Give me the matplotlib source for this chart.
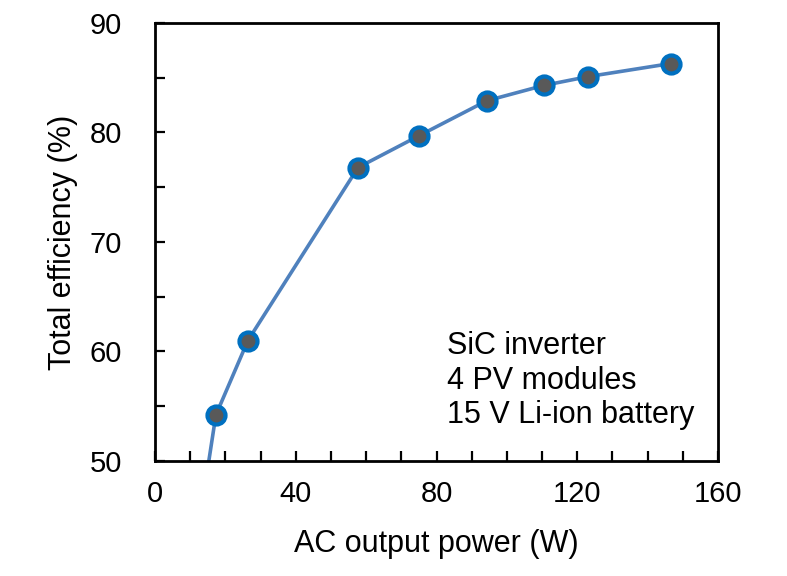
import numpy as np
import matplotlib.pyplot as plt
from matplotlib.ticker import MultipleLocator

plt.rcParams['font.family'] = ['Liberation Sans', 'DejaVu Sans']

# measured points (last one below the axis range only shapes the line end)
power = [13.0, 17.3, 26.4, 57.7, 75.0, 94.3, 110.5, 123.0, 146.6]
efficiency = [45.2, 54.2, 61.0, 76.8, 79.7, 82.9, 84.3, 85.1, 86.3]
x_ticks = [0, 40, 80, 120, 160]
y_ticks = [50, 60, 70, 80, 90]
note = "SiC inverter\n4 PV modules\n15 V Li-ion battery"

fig = plt.figure(figsize=(7.87, 5.76), dpi=100)
ax = fig.add_axes([155 / 787, 1 - 461 / 576, (718 - 155) / 787, (461 - 23) / 576])

ax.plot(power, efficiency, "-", color="#4F81BD", lw=2.6, zorder=2)
ax.plot(power[1:], efficiency[1:], "o", ms=13, mfc="#595959", mec="#0070C0",
        mew=3, zorder=3)

ax.set_xlim(0, 160)
ax.set_ylim(50, 90)
ax.set_xticks(x_ticks)
ax.set_yticks(y_ticks)
ax.xaxis.set_minor_locator(MultipleLocator(10))
ax.yaxis.set_minor_locator(MultipleLocator(5))
ax.tick_params(which="both", direction="in", width=1.6, length=7,
               labelsize=21)
ax.tick_params(axis="x", pad=14)
ax.tick_params(axis="y", pad=24)
for s in ax.spines.values():
    s.set_linewidth(2)

ax.set_xlabel("AC output power (W)", fontsize=22, labelpad=15)
ax.set_ylabel("Total efficiency (%)", fontsize=22, labelpad=8)
ax.text(0.519, 0.183, note, transform=ax.transAxes, fontsize=22,
        va="center", ha="left", linespacing=1.2)

fig.savefig("out.png", dpi=100)
